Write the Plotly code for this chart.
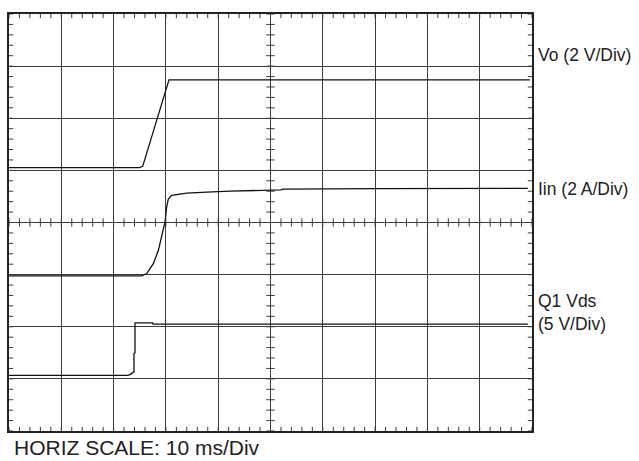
import plotly.graph_objects as go

# Time axis in ms (10 ms/Div, 10 divisions); vertical values in screen divisions (0..8)
vo_t = [0, 24.9, 25.56, 29.83, 30.15, 30.59, 99.6]
vo_y = [5.052, 5.052, 5.077, 6.50, 6.628, 6.738, 6.738]

iin_t = [0, 25.37, 26.33, 27.60, 28.56, 29.20, 29.83, 30.15, 30.46, 31.10, 33.98, 37.80, 42.26, 52.0, 52.39, 70.0, 99.2]
iin_y = [2.975, 2.975, 3.02, 3.21, 3.467, 3.72, 4.01, 4.30, 4.45, 4.52, 4.565, 4.584, 4.603, 4.625, 4.640, 4.648, 4.655]

vds_t = [0, 22.70, 23.14, 23.90, 23.90, 24.09, 24.09, 27.48, 27.53, 99.2]
vds_y = [1.067, 1.067, 1.082, 1.136, 1.489, 1.50, 2.075, 2.075, 2.05, 2.05]

labels = ["Vo (2 V/Div)", "Iin (2 A/Div)", "Q1 Vds<br>(5 V/Div)"]
label_y = [7.22, 4.65, 2.27]
xlabel = "HORIZ SCALE: 10 ms/Div"

X_DIVS, Y_DIVS = 10, 8
MS_PER_DIV = 10
TICK_X = 0.08 * MS_PER_DIV  # tick length in ms
TICK_Y = 0.08               # tick length in divisions

fig = go.Figure()
for t, y in [(vo_t, vo_y), (iin_t, iin_y), (vds_t, vds_y)]:
    fig.add_trace(go.Scatter(x=t, y=y, mode="lines",
                             line=dict(color="#111111", width=1.3),
                             showlegend=False, hoverinfo="skip"))

shapes = []
grid_col = "#3c3c3c"
for i in range(X_DIVS * 5 + 1):
    x = i * MS_PER_DIV / 5
    shapes.append(dict(type="line", x0=x, x1=x, y0=Y_DIVS, y1=Y_DIVS - TICK_Y, line=dict(color=grid_col, width=1)))
    shapes.append(dict(type="line", x0=x, x1=x, y0=0, y1=TICK_Y, line=dict(color=grid_col, width=1)))
    shapes.append(dict(type="line", x0=x, x1=x, y0=Y_DIVS / 2 - TICK_Y, y1=Y_DIVS / 2 + TICK_Y, line=dict(color=grid_col, width=1)))
for j in range(Y_DIVS * 5 + 1):
    y = j / 5
    shapes.append(dict(type="line", x0=0, x1=TICK_X, y0=y, y1=y, line=dict(color=grid_col, width=1)))
    shapes.append(dict(type="line", x0=X_DIVS * MS_PER_DIV, x1=X_DIVS * MS_PER_DIV - TICK_X, y0=y, y1=y, line=dict(color=grid_col, width=1)))
    cx = X_DIVS * MS_PER_DIV / 2
    shapes.append(dict(type="line", x0=cx - TICK_X, x1=cx + TICK_X, y0=y, y1=y, line=dict(color=grid_col, width=1)))

FONT = dict(family="Liberation Sans, Arial, sans-serif", size=17.5, color="#222222")
annotations = []
for txt, y in zip(labels, label_y):
    annotations.append(dict(x=1.008, y=y / Y_DIVS, xref="paper", yref="paper", text=txt, showarrow=False,
                            xanchor="left", yanchor="middle", align="left", font=FONT))
annotations.append(dict(x=0.005, y=-0.072, xref="paper", yref="paper", text=xlabel, showarrow=False,
                        xanchor="left", yanchor="bottom",
                        font=dict(family="Liberation Sans, Arial, sans-serif", size=21, color="#222222")))

fig.update_layout(
    width=639, height=461,
    margin=dict(l=9, r=107, t=14, b=30),
    paper_bgcolor="white", plot_bgcolor="white",
    shapes=shapes, annotations=annotations,
    xaxis=dict(range=[0, X_DIVS * MS_PER_DIV], dtick=MS_PER_DIV, tick0=0, showgrid=True,
               gridcolor=grid_col, gridwidth=1, showticklabels=False, ticks="",
               zeroline=False, showline=True, linecolor="#222222", linewidth=1.5, mirror=True),
    yaxis=dict(range=[0, Y_DIVS], dtick=1, tick0=0, showgrid=True,
               gridcolor=grid_col, gridwidth=1, showticklabels=False, ticks="",
               zeroline=False, showline=True, linecolor="#222222", linewidth=1.5, mirror=True),
)

fig.write_html("out.html")
